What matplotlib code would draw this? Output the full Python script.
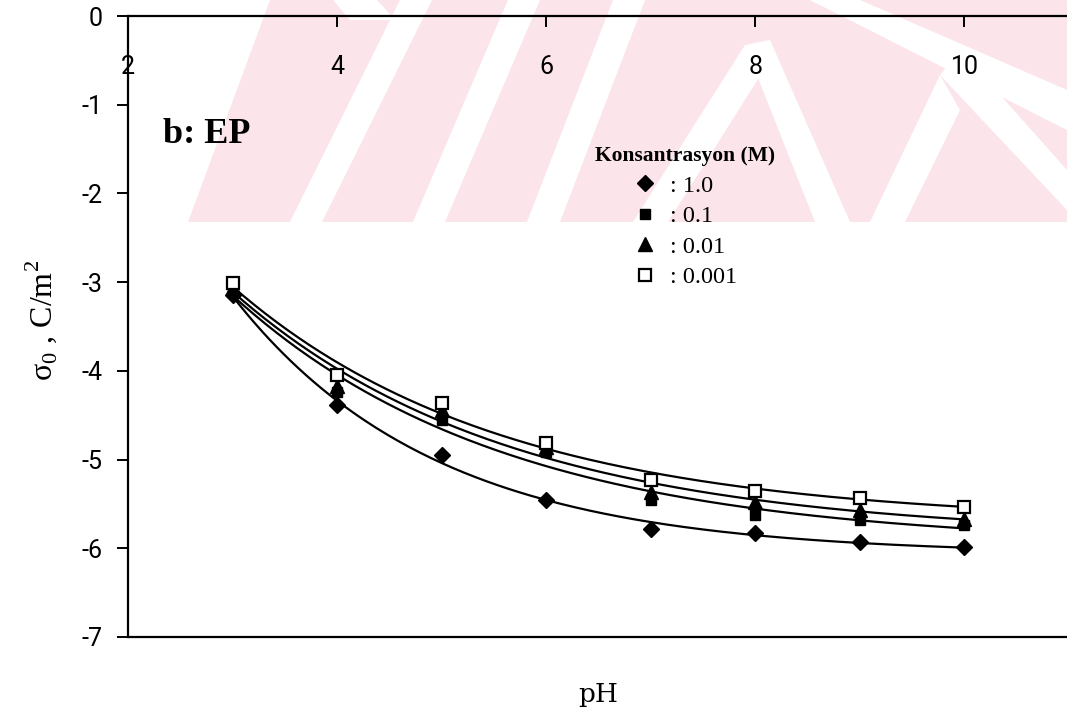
import matplotlib
matplotlib.use("Agg")
import matplotlib.pyplot as plt
import numpy as np
from matplotlib.lines import Line2D
from matplotlib.patches import Polygon
from matplotlib.transforms import IdentityTransform

plt.rcParams["mathtext.fontset"] = "custom"
plt.rcParams["mathtext.rm"] = "Liberation Serif"

# pH ve yüzey yük yoğunluğu (C/m2), dört farklı tuz konsantrasyonu
ph = [3, 4, 5, 6, 7, 8, 9, 10]
sigma_1 = [-3.15, -4.39, -4.95, -5.46, -5.78, -5.83, -5.93, -5.99]
sigma_01 = [-3.09, -4.24, -4.55, -4.91, -5.46, -5.63, -5.68, -5.74]
sigma_001 = [-3.05, -4.17, -4.44, -4.86, -5.37, -5.48, -5.57, -5.67]
sigma_0001 = [-3.01, -4.05, -4.36, -4.81, -5.23, -5.35, -5.43, -5.53]

series_labels = [": 1.0", ": 0.1", ": 0.01", ": 0.001"]
x_ticks = [2, 4, 6, 8, 10]
y_ticks = [0, -1, -2, -3, -4, -5, -6, -7]

W, H = 1067, 713
fig = plt.figure(figsize=(W / 100, H / 100), dpi=100)


def px(x, y):
    # üstten ölçülen piksel -> ekran koordinatı
    return (x, H - y)


def exp_trend(x, y):
    """y = a + b*exp(-c*x) eğrisi; c taranır, a ve b en küçük kareler."""
    x = np.asarray(x, float)
    y = np.asarray(y, float)
    best = None
    for c in np.linspace(0.05, 2.0, 400):
        A = np.column_stack([np.ones_like(x), np.exp(-c * x)])
        coef, *_ = np.linalg.lstsq(A, y, rcond=None)
        err = np.sum((A @ coef - y) ** 2)
        if best is None or err < best[0]:
            best = (err, c, coef)
    _, c, (a, b) = best
    return lambda t: a + b * np.exp(-c * t)


# arka plandaki soluk filigran şeritleri
pink = "#fce5ea"
band = [px(188, 222), px(270, 0), px(W, 0), px(W, 222)]
fig.add_artist(Polygon(band, closed=True, transform=IdentityTransform(),
                       facecolor=pink, edgecolor="none", zorder=0))
white_strips = [
    [(290, 222), (322, 222), (432, 0), (400, 0)],
    [(333, 0), (377, 0), (395, 20), (350, 20)],
    [(413, 222), (445, 222), (540, 0), (508, 0)],
    [(527, 222), (560, 222), (645, 0), (613, 0)],
    [(633, 222), (668, 222), (770, 60), (745, 45)],
    [(745, 45), (770, 40), (850, 222), (815, 222)],
    [(870, 222), (905, 222), (960, 110), (940, 75)],
    [(940, 75), (960, 50), (W, 170), (W, 210)],
    [(810, 0), (860, 0), (W, 90), (W, 130)],
]
for strip in white_strips:
    fig.add_artist(Polygon([px(*p) for p in strip], closed=True,
                           transform=IdentityTransform(), facecolor="white",
                           edgecolor="none", zorder=0))

ax = fig.add_axes([128 / W, (H - 637) / H, 941 / W, 621 / H])
ax.set_facecolor("none")
ax.set_zorder(2)

styles = [
    dict(marker="D", ms=8.0, mfc="black", mec="black"),
    dict(marker="s", ms=7.0, mfc="black", mec="black"),
    dict(marker="^", ms=9.5, mfc="black", mec="black"),
    dict(marker="s", ms=8.5, mfc="white", mec="black", mew=1.6),
]
all_series = [sigma_1, sigma_01, sigma_001, sigma_0001]

x_fit = np.linspace(min(ph), max(ph), 200)
handles = []
for values in all_series:
    trend = exp_trend(ph, values)
    ax.plot(x_fit, trend(x_fit), color="black", lw=1.6, zorder=3)
for values, st in zip(all_series, styles):
    ax.plot(ph, values, ls="none", zorder=4, **st)
    handles.append(Line2D([], [], ls="none", **st))

ax.set_xlim(2, 11)
ax.set_ylim(-7, 0)

ax.spines["right"].set_visible(False)
for s in ("top", "bottom", "left"):
    ax.spines[s].set_linewidth(1.6)

ax.set_xticks(x_ticks)
ax.set_yticks(y_ticks)
ax.set_yticklabels([str(v) for v in y_ticks])
ax.tick_params(axis="x", bottom=False, labelbottom=False, top=True, labeltop=True,
               direction="in", length=8, width=1.4, pad=-45, labelsize=18)
ax.tick_params(axis="y", direction="out", length=8, width=1.4, pad=10, labelsize=18)
for lab in ax.get_xticklabels() + ax.get_yticklabels():
    lab.set_fontfamily("Roboto")

ax.set_xlabel("pH", family="DejaVu Serif", fontsize=19)
ax.xaxis.set_label_coords(0.5, -0.072)
ax.set_ylabel(r"σ$_\mathregular{0}$ , C/m$^\mathregular{2}$",
              family="Liberation Serif", fontsize=23)
ax.yaxis.set_label_coords(-0.072, 0.51)

ax.text(2.335, -1.43, "b: EP", family="Liberation Serif",
        fontweight="bold", fontsize=26, ha="left", va="baseline")

leg = ax.legend(handles, series_labels, title="Konsantrasyon (M)", frameon=False,
                loc="upper left", bbox_to_anchor=(583 / W, (H - 134) / H),
                bbox_transform=fig.transFigure, handlelength=1.0,
                handletextpad=0.55, labelspacing=0.35, borderpad=0,
                prop={"family": "Liberation Serif", "size": 17.5},
                title_fontproperties={"family": "Liberation Serif",
                                      "weight": "bold", "size": 15.5})

fig.savefig("out.png", dpi=100)
